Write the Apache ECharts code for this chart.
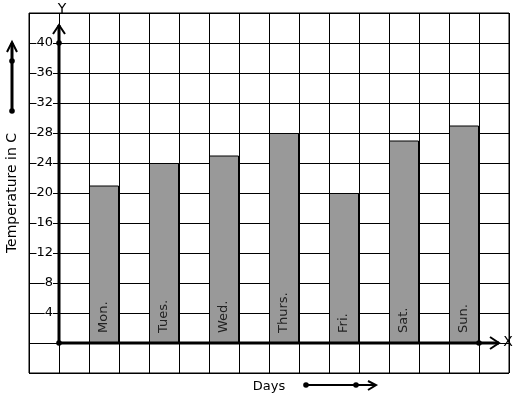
<!DOCTYPE html>
<html>
<head>
<meta charset="utf-8">
<script src="https://cdn.jsdelivr.net/npm/echarts@6/dist/echarts.min.js"></script>
<style>html,body{margin:0;padding:0;background:#fff}#c{width:517px;height:399px}</style>
</head>
<body>
<div id="c"></div>
<script>
const days = ['Mon.', 'Tues.', 'Wed.', 'Thurs.', 'Fri.', 'Sat.', 'Sun.'];
const temps = [21, 24, 25, 28, 20, 27, 29];
const yTickLabels = [4, 8, 12, 16, 20, 24, 28, 32, 36, 40];
const xTitle = 'Days';
const yTitle = 'Temperature in C';

// grid squares: 16 columns, a day in every second column starting at column 2
const slotCount = 16;
const slots = [];
const slotValues = [];
const slotNames = [];
for (let i = 0; i < slotCount; i++) { slots.push('s' + i); slotValues.push('-'); slotNames.push(''); }
days.forEach((d, i) => { slotValues[2 + 2 * i] = temps[i]; slotNames[2 + 2 * i] = d; });

const FONT = 'DejaVu Sans';
const chart = echarts.init(document.getElementById('c'), null, { renderer: 'canvas' });
const gridLeft = 29, gridTop = 13, gridW = 480, gridH = 360;

chart.setOption({
  animation: false,
  backgroundColor: '#fff',
  grid: { left: gridLeft, top: gridTop, width: gridW, height: gridH, outerBoundsMode: 'none', containLabel: false,
          show: true, borderColor: '#000', borderWidth: 1, backgroundColor: 'transparent' },
  xAxis: {
    type: 'category', data: slots, boundaryGap: true,
    axisLine: { show: false }, axisTick: { show: false }, axisLabel: { show: false },
    splitLine: { show: true, interval: 0, lineStyle: { color: '#000', width: 1 } },
    name: xTitle, nameLocation: 'middle', nameGap: 7,
    nameTextStyle: { fontFamily: FONT, fontSize: 13, color: '#000' }
  },
  yAxis: {
    type: 'value', min: -4, max: 44, interval: 4,
    axisLine: { show: false }, axisTick: { show: false },
    splitLine: { show: true, lineStyle: { color: '#000', width: 1 } },
    axisLabel: {
      inside: true, margin: 24, align: 'right', showMinLabel: true, showMaxLabel: true,
      formatter: v => (yTickLabels.indexOf(v) >= 0 ? String(v) : ''),
      fontFamily: FONT, fontSize: 13, color: '#000', backgroundColor: '#fff', padding: [0, 0, 0, 0]
    },
    name: yTitle, nameLocation: 'middle', nameGap: 10,
    nameTextStyle: { fontFamily: FONT, fontSize: 14, color: '#000' }
  },
  series: [{
    type: 'bar', data: slotValues, barWidth: '100%',
    itemStyle: { color: '#999999', borderColor: '#000', borderWidth: 1 },
    label: {
      show: true, position: 'insideBottom', rotate: 90, align: 'left', verticalAlign: 'middle', distance: 10,
      formatter: p => slotNames[p.dataIndex], fontFamily: FONT, fontSize: 13, color: '#222'
    },
    z: 3
  }]
});

// decorations: main axes with arrows, dots, axis letters
const cx = i => chart.convertToPixel({ xAxisIndex: 0 }, slots[i]);
const bw = cx(1) - cx(0);
const py = v => chart.convertToPixel({ yAxisIndex: 0 }, v);
const ox = cx(1) - bw / 2, oy = py(0);
const topTip = py(44) + 12;
const rightTip = gridLeft + gridW - 10;
const sunRight = cx(2 + 2 * (days.length - 1)) + bw / 2;
const dot = (x, y) => ({ type: 'circle', shape: { cx: x, cy: y, r: 2.8 }, style: { fill: '#000' }, z: 20 });
const line = (pts, w) => ({ type: 'polyline', shape: { points: pts }, style: { stroke: '#000', lineWidth: w, fill: null }, z: 20 });

chart.setOption({
  graphic: [
    line([[ox, oy], [ox, topTip]], 3),
    line([[ox - 6, topTip + 9], [ox, topTip], [ox + 6, topTip + 9]], 2),
    line([[ox, oy], [rightTip, oy]], 3),
    line([[rightTip - 9, oy - 6], [rightTip, oy], [rightTip - 9, oy + 6]], 2),
    dot(ox, oy), dot(ox, py(40)), dot(sunRight, oy),
    { type: 'text', style: { text: 'Y', x: ox + 3, y: 9, align: 'center', verticalAlign: 'middle', font: '14px "DejaVu Sans"', fill: '#000' }, z: 20 },
    { type: 'text', style: { text: 'X', x: rightTip + 9, y: oy - 1, align: 'center', verticalAlign: 'middle', font: '14px "DejaVu Sans"', fill: '#000' }, z: 20 },
    // left arrow decoration
    line([[12, 111], [12, 43]], 3),
    line([[7, 52], [12, 42], [17, 52]], 2),
    dot(12, 61), dot(12, 111),
    // days arrow decoration
    line([[306, 385], [376, 385]], 2),
    line([[368, 381], [376, 385], [368, 390]], 2),
    dot(306, 385), dot(356, 385)
  ]
});
</script>
</body>
</html>
